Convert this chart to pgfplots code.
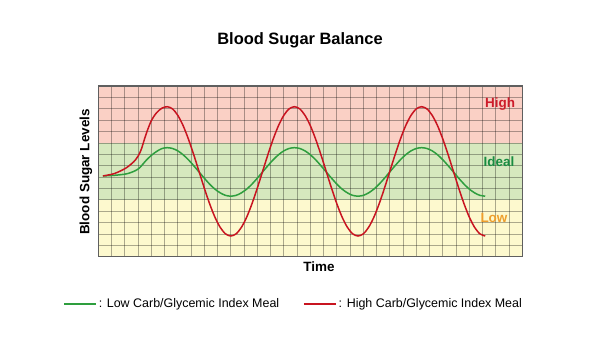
\documentclass[border=0pt]{standalone}
\usepackage{fontspec}
\setmainfont{Liberation Sans}
\usepackage{pgfplots}
\pgfplotsset{compat=1.18}
\definecolor{zhigh}{RGB}{250,208,197}
\definecolor{zideal}{RGB}{214,232,190}
\definecolor{zlow}{RGB}{253,249,206}
\definecolor{borderc}{RGB}{95,95,95}
\definecolor{redline}{RGB}{200,20,32}
\definecolor{greenline}{RGB}{46,158,62}
\definecolor{hightxt}{RGB}{205,28,42}
\definecolor{idealtxt}{RGB}{25,140,65}
\definecolor{lowtxt}{RGB}{238,158,45}
\begin{document}
\begin{tikzpicture}[x=1bp,y=1bp]
\path (0,0) rectangle (600,350);
\begin{axis}[
  at={(98.3bp,93.3bp)}, anchor=south west,
  scale only axis, width=424bp, height=170.7bp,
  xmin=0, xmax=32, ymin=0, ymax=15,
  xtick={0,...,32}, ytick={0,...,15},
  xticklabels={}, yticklabels={},
  major tick length=0pt,
  grid=major,
  major grid style={black, opacity=0.32, line width=0.7bp},
  axis line style={borderc, line width=1.1bp},
  set layers,
  legend columns=2,
  legend cell align=left,
  legend image code/.code={\draw[#1] (0bp,0bp) -- (32bp,0bp);},
  legend style={at={(-0.09,-0.277)}, anchor=west, draw=none, fill=none,
    font=\fontsize{12.5}{15}\selectfont,
    /tikz/every even column/.append style={column sep=22bp}},
]
\addplot[draw=none, fill=zhigh, on layer=axis background, forget plot] coordinates {(0,10) (32,10) (32,15) (0,15)} -- cycle;
\addplot[draw=none, fill=zideal, on layer=axis background, forget plot] coordinates {(0,5) (32,5) (32,10) (0,10)} -- cycle;
\addplot[draw=none, fill=zlow, on layer=axis background, forget plot] coordinates {(0,0) (32,0) (32,5) (0,5)} -- cycle;
\addplot[greenline, line width=1.5bp, smooth] coordinates {
(0.35,7.1)(1.2,7.15)(2.2,7.3)(3.0,7.7)(3.6,8.45)(4.0,8.9)(4.4,9.25)(4.8,9.5)(5.2,9.58)
(5.6,9.51)(6.0,9.30)(6.4,8.96)(6.8,8.52)(7.2,8.00)(7.6,7.45)(8.0,6.90)(8.4,6.38)(8.8,5.94)(9.2,5.61)(9.6,5.39)(10.0,5.32)
(10.4,5.39)(10.8,5.61)(11.2,5.94)(11.6,6.38)(12.0,6.90)(12.4,7.45)(12.8,8.00)(13.2,8.52)(13.6,8.96)(14.0,9.30)(14.4,9.51)(14.8,9.58)
(15.2,9.51)(15.6,9.30)(16.0,8.96)(16.4,8.52)(16.8,8.00)(17.2,7.45)(17.6,6.90)(18.0,6.38)(18.4,5.94)(18.8,5.61)(19.2,5.39)(19.6,5.32)
(20.0,5.39)(20.4,5.61)(20.8,5.94)(21.2,6.38)(21.6,6.90)(22.0,7.45)(22.4,8.00)(22.8,8.52)(23.2,8.96)(23.6,9.30)(24.0,9.51)(24.4,9.58)
(24.8,9.51)(25.2,9.30)(25.6,8.96)(26.0,8.52)(26.4,8.00)(26.8,7.45)(27.2,6.90)(27.6,6.38)(28.0,5.94)(28.4,5.61)(28.8,5.39)(29.2,5.32)};
\addlegendentry{: Low Carb/Glycemic Index Meal}
\addplot[redline, line width=1.5bp, smooth] coordinates {
(0.35,7.1)(1.2,7.3)(2.1,7.8)(2.8,8.5)(3.2,9.3)(3.6,10.75)(4.0,11.95)(4.4,12.65)(4.8,13.05)(5.2,13.18)
(5.6,12.99)(6.0,12.42)(6.4,11.52)(6.8,10.34)(7.2,8.97)(7.6,7.5)(8.0,6.03)(8.4,4.66)(8.8,3.48)(9.2,2.58)(9.6,2.01)(10.0,1.82)
(10.4,2.01)(10.8,2.58)(11.2,3.48)(11.6,4.66)(12.0,6.03)(12.4,7.5)(12.8,8.97)(13.2,10.34)(13.6,11.52)(14.0,12.42)(14.4,12.99)(14.8,13.18)
(15.2,12.99)(15.6,12.42)(16.0,11.52)(16.4,10.34)(16.8,8.97)(17.2,7.5)(17.6,6.03)(18.0,4.66)(18.4,3.48)(18.8,2.58)(19.2,2.01)(19.6,1.82)
(20.0,2.01)(20.4,2.58)(20.8,3.48)(21.2,4.66)(21.6,6.03)(22.0,7.5)(22.4,8.97)(22.8,10.34)(23.2,11.52)(23.6,12.42)(24.0,12.99)(24.4,13.18)
(24.8,12.99)(25.2,12.42)(25.6,11.52)(26.0,10.34)(26.4,8.97)(26.8,7.5)(27.2,6.03)(27.6,4.66)(28.0,3.48)(28.4,2.58)(28.8,2.01)(29.2,1.82)};
\addlegendentry{: High Carb/Glycemic Index Meal}
\begin{pgfonlayer}{axis foreground}
\node[text=hightxt] at (axis cs:30.32,13.42) {\fontsize{13.5}{15}\selectfont\bfseries High};
\node[text=idealtxt] at (axis cs:30.24,8.35) {\fontsize{13.5}{15}\selectfont\bfseries Ideal};
\node[text=lowtxt] at (axis cs:29.86,3.40) {\fontsize{13.5}{15}\selectfont\bfseries Low};
\end{pgfonlayer}
\end{axis}
\node at (300,310) {\fontsize{16.5}{19}\selectfont\bfseries Blood Sugar Balance};
\node[rotate=90] at (86,178) {\fontsize{13.5}{16}\selectfont\bfseries Blood Sugar Levels};
\node at (319,83.3) {\fontsize{13.5}{16}\selectfont\bfseries Time};
\end{tikzpicture}
\end{document}
